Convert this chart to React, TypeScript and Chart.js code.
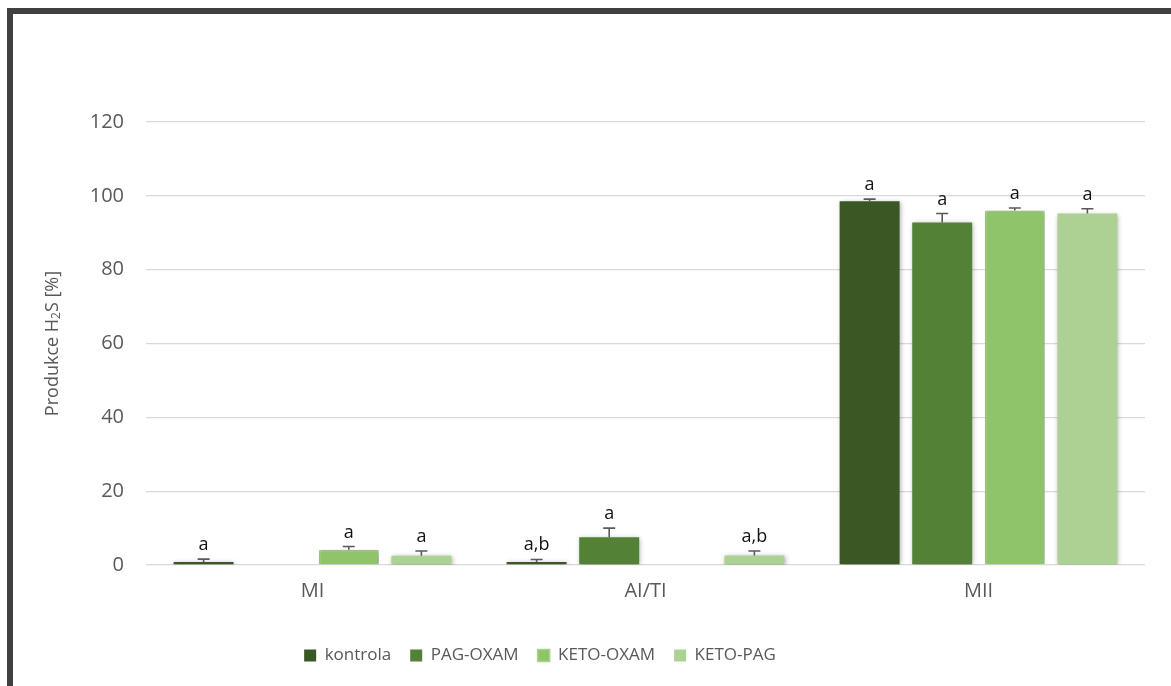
import React, { useEffect, useRef } from "react";
import { Chart, registerables } from "chart.js";

Chart.register(...registerables);

// Categories and series
const categories = ["MI", "AI/TI", "MII"];
const seriesNames = ["kontrola", "PAG-OXAM", "KETO-OXAM", "KETO-PAG"];

// Mean H2S production [%]
const kontrola = [0.8, 0.8, 98.5];
const pagOxam = [0, 7.5, 92.8];
const ketoOxam = [4.1, 0, 96.0];
const ketoPag = [2.5, 2.6, 95.2];

// Error bar heights (upper whisker)
const kontrolaErr = [0.8, 0.7, 0.6];
const pagOxamErr = [0, 2.5, 2.4];
const ketoOxamErr = [0.9, 0, 0.7];
const ketoPagErr = [1.3, 1.2, 1.3];

// Significance letters above each bar
const kontrolaLetters = ["a", "a,b", "a"];
const pagOxamLetters = ["", "a", "a"];
const ketoOxamLetters = ["a", "", "a"];
const ketoPagLetters = ["a", "a,b", "a"];

const yMin = 0;
const yMax = 120;
const yStep = 20;

const FONT = "'Open Sans', 'Noto Sans', sans-serif";
const TEXT_GREY = "#595959";

const values = [kontrola, pagOxam, ketoOxam, ketoPag];
const errors = [kontrolaErr, pagOxamErr, ketoOxamErr, ketoPagErr];
const letters = [kontrolaLetters, pagOxamLetters, ketoOxamLetters, ketoPagLetters];
const fills = ["#3a5724", "#538135", "#8fc46b", "#acd293"];
const borders = ["#3a5724", "#538135", "#a6d38a", "#acd293"];
const borderWidths = [0, 0, 1.5, 0];

// Legend block centre on the page
const LEGEND_CENTER_X = 540;

// Soft drop shadow under the bars, then whiskers and letters on top
const barDecorations = {
  id: "barDecorations",
  beforeDatasetsDraw(chart: any) {
    const ctx = chart.ctx;
    ctx.save();
    ctx.shadowColor = "rgba(0,0,0,0.35)";
    ctx.shadowBlur = 5;
    ctx.shadowOffsetX = 1;
    ctx.shadowOffsetY = 1;
  },
  afterDatasetsDraw(chart: any) {
    const ctx = chart.ctx;
    ctx.restore();
    const y = chart.scales.y;
    chart.data.datasets.forEach((ds: any, di: number) => {
      const meta = chart.getDatasetMeta(di);
      meta.data.forEach((el: any, i: number) => {
        const v = ds.data[i];
        if (!v) return;
        const err = errors[di][i];
        const yTop = y.getPixelForValue(v + err);
        ctx.save();
        ctx.strokeStyle = "#595959";
        ctx.lineWidth = 1.6;
        ctx.beginPath();
        ctx.moveTo(el.x, el.y);
        ctx.lineTo(el.x, yTop);
        ctx.moveTo(el.x - 6, yTop);
        ctx.lineTo(el.x + 6, yTop);
        ctx.stroke();
        const label = letters[di][i];
        if (label) {
          ctx.fillStyle = "#111111";
          ctx.font = `18px ${FONT}`;
          ctx.textAlign = "center";
          ctx.textBaseline = "alphabetic";
          ctx.fillText(label, el.x, yTop - 9);
        }
        ctx.restore();
      });
    });
  },
};

// Shift the legend block so it is centred on the frame rather than the canvas
const legendShift = {
  id: "legendShift",
  afterLayout(chart: any) {
    const lg = chart.legend;
    if (!lg) return;
    const dx = LEGEND_CENTER_X - (lg.left + lg.right) / 2;
    lg.left += dx;
    lg.right += dx;
    if (lg.legendHitBoxes) {
      lg.legendHitBoxes.forEach((b: any) => {
        b.left += dx;
      });
    }
  },
};

// Rotated axis title with a subscript digit
const yTitle = {
  id: "yTitle",
  afterDraw(chart: any) {
    const ctx = chart.ctx;
    const area = chart.chartArea;
    const cy = (area.top + area.bottom) / 2;
    const cx = 53;
    const parts = [
      { t: "Produkce H", size: 18, dy: 0 },
      { t: "2", size: 12, dy: 4 },
      { t: "S [%]", size: 18, dy: 0 },
    ];
    ctx.save();
    ctx.translate(cx, cy);
    ctx.rotate(-Math.PI / 2);
    ctx.fillStyle = TEXT_GREY;
    ctx.textBaseline = "middle";
    ctx.textAlign = "left";
    let total = 0;
    const widths = parts.map((p) => {
      ctx.font = `${p.size}px ${FONT}`;
      const w = ctx.measureText(p.t).width;
      total += w;
      return w;
    });
    let x = -total / 2;
    parts.forEach((p, i) => {
      ctx.font = `${p.size}px ${FONT}`;
      ctx.fillText(p.t, x, p.dy);
      x += widths[i];
    });
    ctx.restore();
  },
};

export default function App() {
  const canvasRef = useRef<HTMLCanvasElement | null>(null);

  useEffect(() => {
    const canvas = canvasRef.current;
    if (!canvas) return;
    const chart = new Chart(canvas, {
      type: "bar",
      data: {
        labels: categories,
        datasets: seriesNames.map((name, i) => ({
          label: name,
          data: values[i],
          backgroundColor: fills[i],
          borderColor: borders[i],
          borderWidth: borderWidths[i],
          categoryPercentage: 0.872,
          barPercentage: 0.826,
        })),
      },
      options: {
        responsive: false,
        animation: false,
        layout: { padding: { left: 0, right: 26, top: 122, bottom: 12 } },
        plugins: {
          legend: {
            position: "bottom",
            labels: {
              color: TEXT_GREY,
              font: { family: FONT, size: 17 },
              boxWidth: 12,
              boxHeight: 12,
              padding: 19,
            },
          },
          tooltip: { enabled: false },
        },
        scales: {
          x: {
            grid: { display: false, drawTicks: false },
            border: { display: false },
            ticks: {
              color: TEXT_GREY,
              font: { family: FONT, size: 20 },
              padding: 14,
            },
            afterFit(scale: any) {
              scale.height = 63;
            },
          },
          y: {
            min: yMin,
            max: yMax,
            ticks: {
              stepSize: yStep,
              color: TEXT_GREY,
              font: { family: FONT, size: 20 },
              padding: 22,
            },
            grid: { color: "#d9d9d9", lineWidth: 1.3, drawTicks: false },
            border: { display: false },
            afterFit(scale: any) {
              scale.width = 146;
            },
          },
        },
      },
      plugins: [barDecorations, legendShift, yTitle],
    });
    return () => chart.destroy();
  }, []);

  return (
    <div>
      <div
        style={{
          position: "fixed",
          left: 7,
          top: 8,
          width: 1400,
          height: 900,
          borderTop: "6px solid #404040",
          borderLeft: "6px solid #404040",
          background: "#ffffff",
        }}
      />
      <canvas
        ref={canvasRef}
        width={1171}
        height={686}
        style={{ position: "fixed", left: 0, top: 0, width: 1171, height: 686 }}
      />
    </div>
  );
}
